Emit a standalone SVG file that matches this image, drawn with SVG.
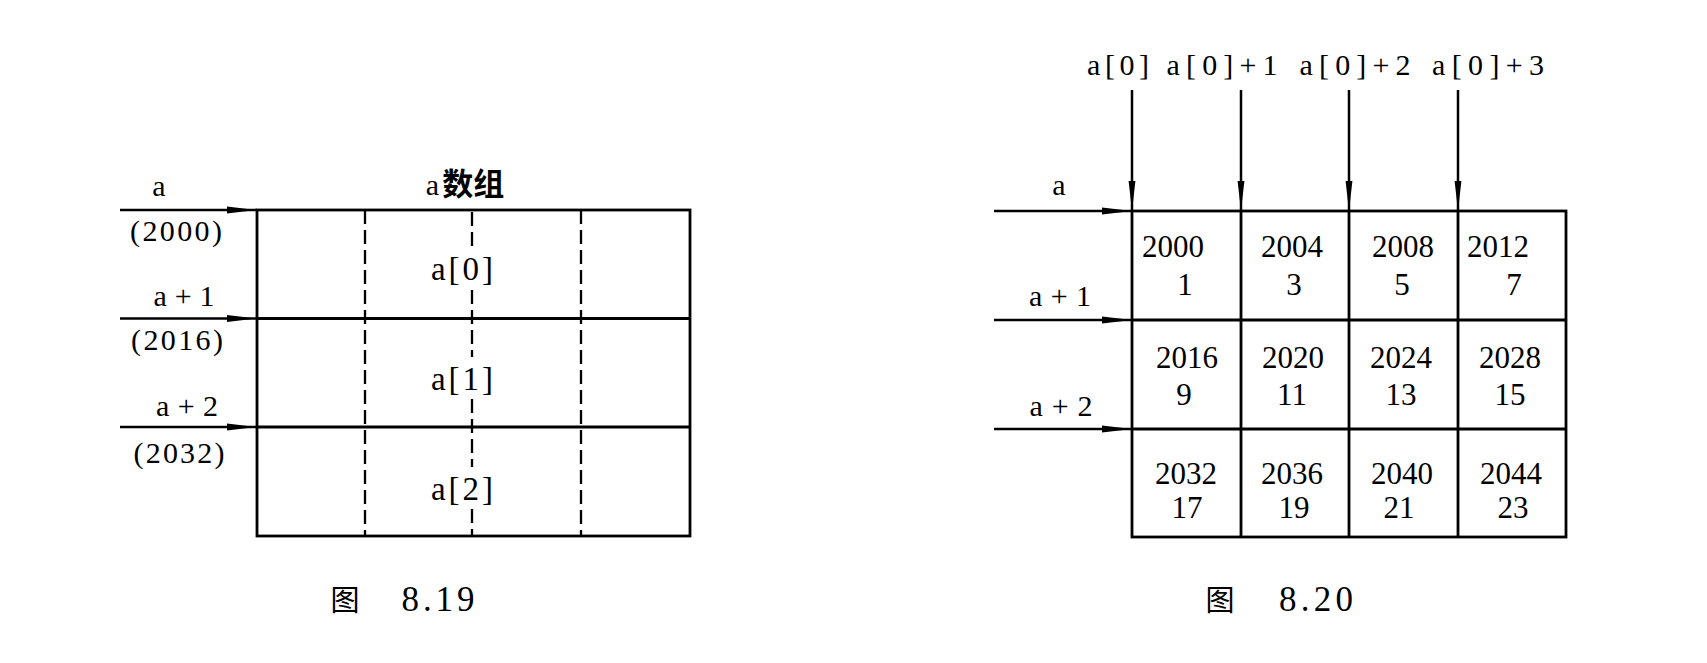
<svg xmlns="http://www.w3.org/2000/svg" width="1707" height="663" viewBox="0 0 1707 663">
  <style>
    .ln { stroke: #000; stroke-width: 2.8; fill: none; }
    .dash { stroke: #000; stroke-width: 2.3; fill: none; stroke-dasharray: 14 6; }
    .conn { stroke: #000; stroke-width: 2.5; fill: none; }
    .h { marker-end: url(#arrow); }
    text { font-family: "Liberation Serif", "Noto Sans CJK SC", serif; fill: #000; text-anchor: middle; }
    .lbl { font-size: 30px; }
    .num { font-size: 31px; }
    .idx { font-size: 33px; }
    .cap { font-size: 35px; }
    .cjk { font-family: "Noto Sans CJK SC", sans-serif; }
  </style>
  <defs>
    <marker id="arrow" markerUnits="userSpaceOnUse" viewBox="0 0 30 8" markerWidth="30" markerHeight="8" refX="30" refY="4" orient="auto">
      <path d="M0,0.6 L30,4 L0,7.4 Z" fill="#000"/>
    </marker>
  </defs>
  <rect width="1707" height="663" fill="#fff"/>

  <!-- Figure 8.19 -->
  <g id="fig819-array">
    <rect class="ln" x="257" y="210" width="433" height="326"/>
    <line class="ln" x1="257" y1="318.5" x2="690" y2="318.5"/>
    <line class="ln" x1="257" y1="427" x2="690" y2="427"/>
    <line class="dash" x1="365" y1="210" x2="365" y2="536"/>
    <line class="dash" x1="581" y1="210" x2="581" y2="536"/>
    <path class="dash" d="M472,212 V247 M472,290 V357 M472,399 V467 M472,509 V536"/>
  </g>
  <g id="fig819-title"><text x="465" y="195" class="lbl">a<tspan class="cjk" font-size="31" font-weight="bold" dx="3">数组</tspan></text></g>
  <g id="fig819-a0"><text x="462" y="280" class="idx" textLength="62" lengthAdjust="spacing">a[0]</text></g>
  <g id="fig819-a1"><text x="462" y="390" class="idx" textLength="62" lengthAdjust="spacing">a[1]</text></g>
  <g id="fig819-a2"><text x="462" y="500" class="idx" textLength="62" lengthAdjust="spacing">a[2]</text></g>
  <g id="fig819-ptr-a">
    <text x="159" y="196" class="lbl">a</text>
    <text x="176" y="241" class="lbl" textLength="92" lengthAdjust="spacing">(2000)</text>
  </g>
  <g id="fig819-ptr-a1">
    <text x="184" y="306" class="lbl" textLength="61" lengthAdjust="spacing">a+1</text>
    <text x="177" y="350" class="lbl" textLength="92" lengthAdjust="spacing">(2016)</text>
  </g>
  <g id="fig819-ptr-a2">
    <text x="187" y="416" class="lbl" textLength="62" lengthAdjust="spacing">a+2</text>
    <text x="179" y="463" class="lbl" textLength="91" lengthAdjust="spacing">(2032)</text>
  </g>
  <g id="fig819-caption">
    <text x="345" y="611" class="cjk" font-size="29">图</text>
    <text x="438" y="611" class="cap" textLength="73" lengthAdjust="spacing">8.19</text>
  </g>

  <!-- Figure 8.20 -->
  <g id="fig820-grid">
    <rect class="ln" x="1132" y="211" width="434" height="326"/>
    <line class="ln" x1="1132" y1="320" x2="1566" y2="320"/>
    <line class="ln" x1="1132" y1="429" x2="1566" y2="429"/>
    <line class="ln" x1="1241" y1="211" x2="1241" y2="537"/>
    <line class="ln" x1="1349" y1="211" x2="1349" y2="537"/>
    <line class="ln" x1="1458" y1="211" x2="1458" y2="537"/>
  </g>
  <g id="cell-0-0"><text x="1173" y="257" class="num">2000</text><text x="1185" y="295" class="num">1</text></g>
  <g id="cell-0-1"><text x="1292" y="257" class="num">2004</text><text x="1294" y="295" class="num">3</text></g>
  <g id="cell-0-2"><text x="1403" y="257" class="num">2008</text><text x="1402" y="295" class="num">5</text></g>
  <g id="cell-0-3"><text x="1498" y="257" class="num">2012</text><text x="1514" y="295" class="num">7</text></g>
  <g id="cell-1-0"><text x="1187" y="368" class="num">2016</text><text x="1184" y="405" class="num">9</text></g>
  <g id="cell-1-1"><text x="1293" y="368" class="num">2020</text><text x="1292" y="405" class="num">11</text></g>
  <g id="cell-1-2"><text x="1401" y="368" class="num">2024</text><text x="1401" y="405" class="num">13</text></g>
  <g id="cell-1-3"><text x="1510" y="368" class="num">2028</text><text x="1510" y="405" class="num">15</text></g>
  <g id="cell-2-0"><text x="1186" y="484" class="num">2032</text><text x="1187" y="518" class="num">17</text></g>
  <g id="cell-2-1"><text x="1292" y="484" class="num">2036</text><text x="1294" y="518" class="num">19</text></g>
  <g id="cell-2-2"><text x="1402" y="484" class="num">2040</text><text x="1399" y="518" class="num">21</text></g>
  <g id="cell-2-3"><text x="1511" y="484" class="num">2044</text><text x="1513" y="518" class="num">23</text></g>

  <g id="fig820-col0"><text x="1118" y="75" class="lbl" textLength="62" lengthAdjust="spacing">a[0]</text></g>
  <g id="fig820-col1"><text x="1222" y="75" class="lbl" textLength="111" lengthAdjust="spacing">a[0]+1</text></g>
  <g id="fig820-col2"><text x="1355" y="75" class="lbl" textLength="111" lengthAdjust="spacing">a[0]+2</text></g>
  <g id="fig820-col3"><text x="1488" y="75" class="lbl" textLength="112" lengthAdjust="spacing">a[0]+3</text></g>
  <g id="fig820-row0"><text x="1059" y="195" class="lbl">a</text></g>
  <g id="fig820-row1"><text x="1060" y="306" class="lbl" textLength="62" lengthAdjust="spacing">a+1</text></g>
  <g id="fig820-row2"><text x="1061" y="416" class="lbl" textLength="63" lengthAdjust="spacing">a+2</text></g>
  <g id="fig820-caption">
    <text x="1220" y="611" class="cjk" font-size="29">图</text>
    <text x="1316" y="611" class="cap" textLength="74" lengthAdjust="spacing">8.20</text>
  </g>

  <!-- Connectors -->
  <g id="connectors">
    <line class="conn h" x1="120" y1="210" x2="257" y2="210"/>
    <line class="conn h" x1="120" y1="318.5" x2="257" y2="318.5"/>
    <line class="conn h" x1="120" y1="427" x2="257" y2="427"/>
    <line class="conn h" x1="994" y1="211" x2="1132" y2="211"/>
    <line class="conn h" x1="994" y1="320" x2="1132" y2="320"/>
    <line class="conn h" x1="994" y1="429" x2="1132" y2="429"/>
    <line class="conn h" x1="1132" y1="90" x2="1132" y2="211"/>
    <line class="conn h" x1="1241" y1="90" x2="1241" y2="211"/>
    <line class="conn h" x1="1349" y1="90" x2="1349" y2="211"/>
    <line class="conn h" x1="1458" y1="90" x2="1458" y2="211"/>
  </g>
</svg>
